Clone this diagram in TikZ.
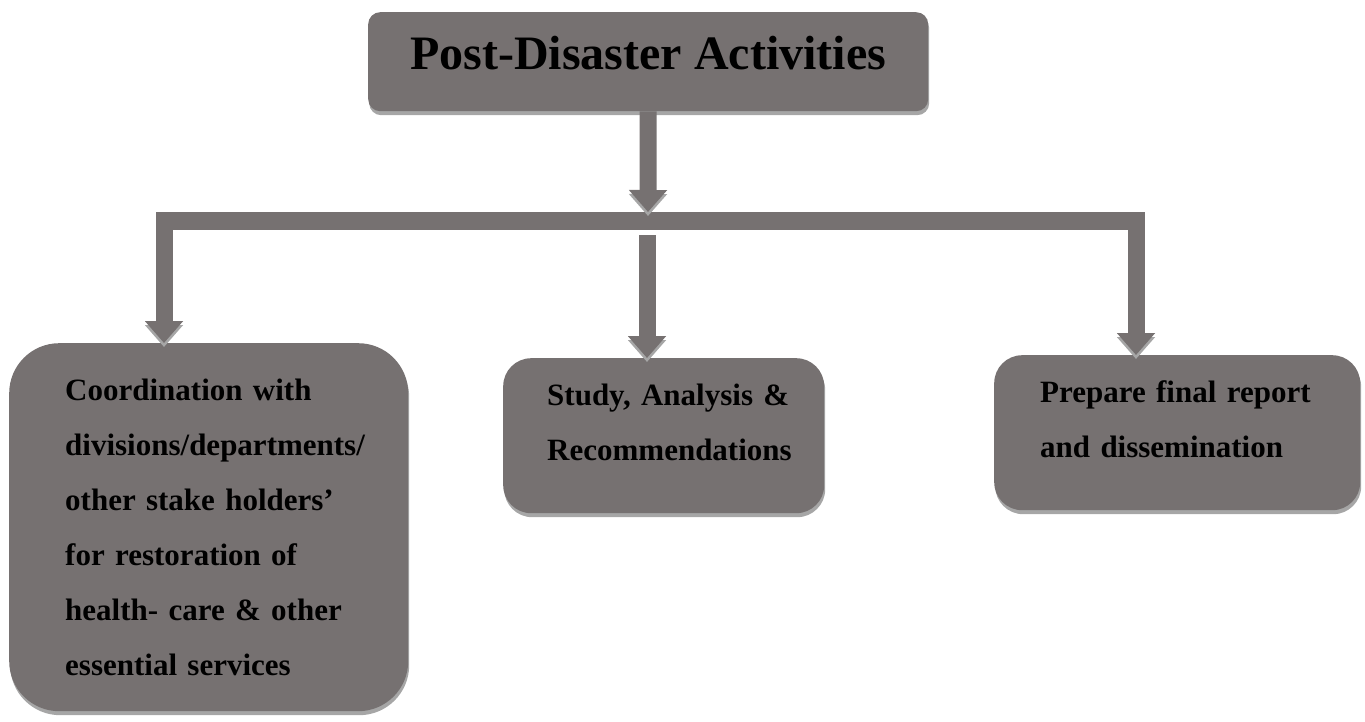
\documentclass[tikz,border=0pt]{standalone}
\usepackage{fontspec}
\setmainfont{Liberation Serif}
\usetikzlibrary{arrows.meta,shadows}
\definecolor{boxgray}{HTML}{767171}
\definecolor{shadegray}{HTML}{A6A6A6}
\tikzset{
  stage/.style={fill=boxgray, anchor=north west, inner xsep=0pt, inner ysep=0pt,
    font=\fontsize{31}{55}\selectfont\bfseries, align=left,
    drop shadow={shadow xshift=1pt, shadow yshift=-4pt, fill=shadegray, opacity=1}},
  lead/.style={execute at begin node={\leftskip=#1}},
  conn/.style={draw=boxgray, line width=17pt, line join=miter,
    preaction={draw=shadegray, transform canvas={yshift=-4pt}}}
}

\begin{document}
\begin{tikzpicture}[x=1pt, y=-1pt, >={Triangle[width=37pt,length=22pt]}]
\useasboundingbox (0,0) rectangle (1365,722);
% the boxes
\node[stage, rounded corners=12pt, minimum width=560pt, text height=57pt,
  text depth=42pt, font=\fontsize{48}{58}\selectfont\bfseries] (title) at (368,12)
  {Post-Disaster Activities};
\node[stage, rounded corners=50pt, minimum width=399pt, text width=379pt, lead=46pt,
  text height=57pt, text depth=311pt] (coord) at (9,343)
  {Coordination with\\ divisions/departments/\\ other stake holders’\\
   for restoration of\\ health- care \& other\\ essential services};
\node[stage, rounded corners=28pt, minimum width=321pt, text width=301pt, lead=34pt,
  text height=47pt, text depth=108pt] (study) at (503,358)
  {Study, Analysis \&\\ Recommendations};
\node[stage, rounded corners=28pt, minimum width=366pt, text width=346pt, lead=36pt,
  text height=47pt, text depth=108pt] (report) at (994,355)
  {Prepare final report\\ and dissemination};
% points on the bar
\path (648,212) coordinate (hub);
\path (164,221) coordinate (barL);
\path (1136,221) coordinate (barR);
\path (647,235) coordinate (split);
% the arrows
\draw[conn,<->] (barL |- coord.north) -- (barL) -- (barR) -- (barR |- report.north);
\draw[conn,->] (title.south) -- (hub);
\draw[conn,->] (split) -- (split |- study.north);
\end{tikzpicture}
\end{document}
